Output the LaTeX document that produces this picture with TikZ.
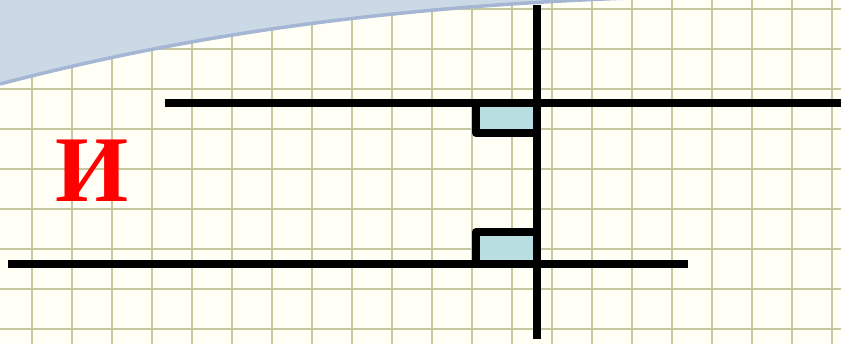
\documentclass[tikz,border=0pt]{standalone}
\usepackage{fontspec}
\setmainfont{Liberation Serif}
\definecolor{bgcol}{RGB}{255,255,246}
\definecolor{gridcol}{RGB}{198,200,160}
\definecolor{skycol}{RGB}{203,216,230}
\definecolor{skyedge}{RGB}{165,182,212}
\definecolor{boxfill}{RGB}{185,222,226}
\begin{document}
\begin{tikzpicture}[x=1pt,y=-1pt,
  gridline/.style={draw=gridcol,line width=2.2pt},
  bar/.style={draw=black,line width=8pt},
  anglebox/.style={draw=black,fill=boxfill,line width=8pt,line join=round},
  letter/.style={text=red,font=\bfseries\fontsize{94}{94}\selectfont,inner sep=0pt}]
\useasboundingbox (0,0) rectangle (841,344);
\fill[bgcol] (0,0) rectangle (841,344);
\foreach \x in {32,72,...,832} \draw[gridline] (\x,0) -- (\x,344);
\foreach \y in {9,49,...,329} \draw[gridline] (0,\y) -- (841,\y);
\fill[skycol] (0,-3) -- (0,84) .. controls (150,45) and (350,6) .. (660,-3) -- cycle;
\draw[skyedge,line width=3.5pt] (0,84) .. controls (150,45) and (350,6) .. (660,-3);
% angle marks
\draw[anglebox] (537,103) -- (476,103) -- (476,133) -- (537,133) -- cycle;
\draw[anglebox] (537,264) -- (476,264) -- (476,232) -- (537,232) -- cycle;
% lines
\coordinate (t1) at (165,103);
\coordinate (t2) at (841,103);
\coordinate (b1) at (8,264);
\coordinate (b2) at (688,264);
\coordinate (v1) at (537,5);
\coordinate (v2) at (537,339);
\draw[bar] (t1) -- (t2);
\draw[bar] (b1) -- (b2);
\draw[bar] (v1) -- (v2);
\node[letter] (lbl) at (92,171) {И};
\end{tikzpicture}
\end{document}
